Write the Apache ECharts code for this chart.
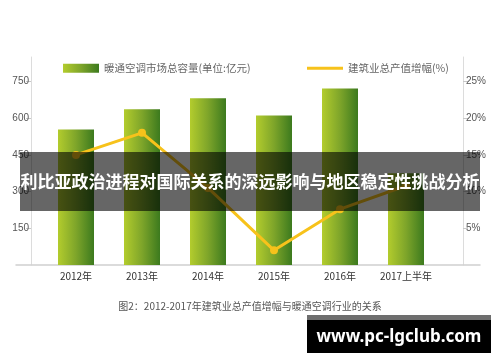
<!DOCTYPE html>
<html>
<head>
<meta charset="utf-8">
<script src="https://cdn.jsdelivr.net/npm/echarts@6/dist/echarts.min.js"></script>
<style>
html,body{margin:0;padding:0;background:#fff;}
#chart{width:500px;height:362px;}
</style>
</head>
<body>
<div id="chart"></div>
<script>
var categories = ['2012年', '2013年', '2014年', '2015年', '2016年', '2017上半年'];
var capacity = [554, 636, 681, 611, 721, 375];
var growth = [15.0, 18.0, 10.5, 2.0, 7.6, 10.8];
var leftTicks = { min: 0, max: 850, interval: 150 };
var rightTicks = { min: 0, max: 850 / 30, interval: 5 };
var barName = '暖通空调市场总容量(单位:亿元)';
var lineName = '建筑业总产值增幅(%)';
var overlayTitle = '利比亚政治进程对国际关系的深远影响与地区稳定性挑战分析';
var caption = '图2：2012-2017年建筑业总产值增幅与暖通空调行业的关系';
var watermark = 'www.pc-lgclub.com';

var chart = echarts.init(document.getElementById('chart'), null, { renderer: 'canvas' });
var FONT = '"Liberation Sans", "Noto Sans CJK SC", sans-serif';
var CJK = '"Noto Sans CJK SC", sans-serif';

var option = {
  backgroundColor: '#ffffff',
  animation: false,
  legend: [
    {
      data: [barName], left: 58, top: 58, itemWidth: 36, itemHeight: 9, itemGap: 6,
      icon: 'rect',
      textStyle: { fontSize: 10.5, color: '#666', fontFamily: CJK }
    },
    {
      data: [lineName], left: 302, top: 58, itemWidth: 36, itemHeight: 3, itemGap: 6,
      icon: 'rect',
      textStyle: { fontSize: 10.5, color: '#666', fontFamily: CJK }
    }
  ],
  grid: [
    { left: 43, right: 61, top: 57, bottom: 97 },
    { left: 16, right: 20, top: 57, bottom: 97 }
  ],
  xAxis: [
    {
      type: 'category', gridIndex: 0, data: categories,
      axisLine: { show: false },
      axisTick: { show: false },
      axisLabel: { interval: 0, fontSize: 10, color: '#333', margin: 6, fontFamily: CJK }
    },
    {
      type: 'category', gridIndex: 1, data: [''],
      axisLine: { show: true, lineStyle: { color: '#cfcfcf', width: 1.5 } },
      axisTick: { show: false },
      axisLabel: { show: false }
    }
  ],
  yAxis: [
    {
      type: 'value', gridIndex: 0, position: 'left', offset: 12,
      min: leftTicks.min, max: leftTicks.max, interval: leftTicks.interval,
      axisLine: { show: true, lineStyle: { color: '#dcdcdc' } },
      axisTick: { show: true, length: 5, lineStyle: { color: '#c8c8c8' } },
      axisLabel: { fontSize: 10, color: '#555', margin: 2, showMinLabel: false, showMaxLabel: false, fontFamily: FONT },
      splitLine: { show: false }
    },
    {
      type: 'value', gridIndex: 0, position: 'right', offset: 24,
      min: rightTicks.min, max: rightTicks.max, interval: rightTicks.interval,
      axisLine: { show: true, lineStyle: { color: '#dcdcdc' } },
      axisTick: { show: true, length: 5, lineStyle: { color: '#c8c8c8' } },
      axisLabel: { fontSize: 10, color: '#555', margin: 3, showMinLabel: false, showMaxLabel: false, formatter: '{value}%', fontFamily: FONT },
      splitLine: { show: false }
    },
    {
      type: 'value', gridIndex: 1, show: false
    }
  ],
  series: [
    {
      name: barName, type: 'bar', xAxisIndex: 0, yAxisIndex: 0,
      data: capacity, barWidth: 36,
      itemStyle: {
        color: new echarts.graphic.LinearGradient(0, 0, 1, 0, [
          { offset: 0, color: '#b3cc2d' },
          { offset: 0.5, color: '#7ea52a' },
          { offset: 1, color: '#3c7a1e' }
        ])
      }
    },
    {
      name: lineName, type: 'line', xAxisIndex: 0, yAxisIndex: 1,
      data: growth,
      symbol: 'circle', symbolSize: 8,
      lineStyle: { color: '#f7c21b', width: 3 },
      itemStyle: { color: '#f7c21b' },
      z: 5
    }
  ],
  graphic: [
    {
      type: 'rect', left: 20, top: 152, z: 100,
      shape: { width: 460, height: 59 },
      style: { fill: 'rgba(0,0,0,0.6)' }
    },
    {
      type: 'text', x: 250, y: 182, z: 101,
      style: {
        text: overlayTitle, fill: '#fff', font: 'bold 17px "Noto Sans CJK SC", sans-serif',
        textAlign: 'center', textVerticalAlign: 'middle'
      }
    },
    {
      type: 'text', x: 250, y: 306, z: 101,
      style: {
        text: caption, fill: '#555', font: '10px "Noto Sans CJK SC", sans-serif',
        textAlign: 'center', textVerticalAlign: 'middle'
      }
    },
    {
      type: 'rect', left: 307, top: 315, z: 100,
      shape: { width: 184, height: 5 },
      style: { fill: '#6e6e6e' }
    },
    {
      type: 'rect', left: 307, top: 320, z: 100,
      shape: { width: 184, height: 33 },
      style: { fill: '#000' }
    },
    {
      type: 'text', x: 399, y: 337, z: 101,
      style: {
        text: watermark, fill: '#fff', font: 'bold 17px "Noto Sans", "Open Sans", sans-serif',
        textAlign: 'center', textVerticalAlign: 'middle'
      }
    }
  ]
};
chart.setOption(option);
</script>
</body>
</html>
